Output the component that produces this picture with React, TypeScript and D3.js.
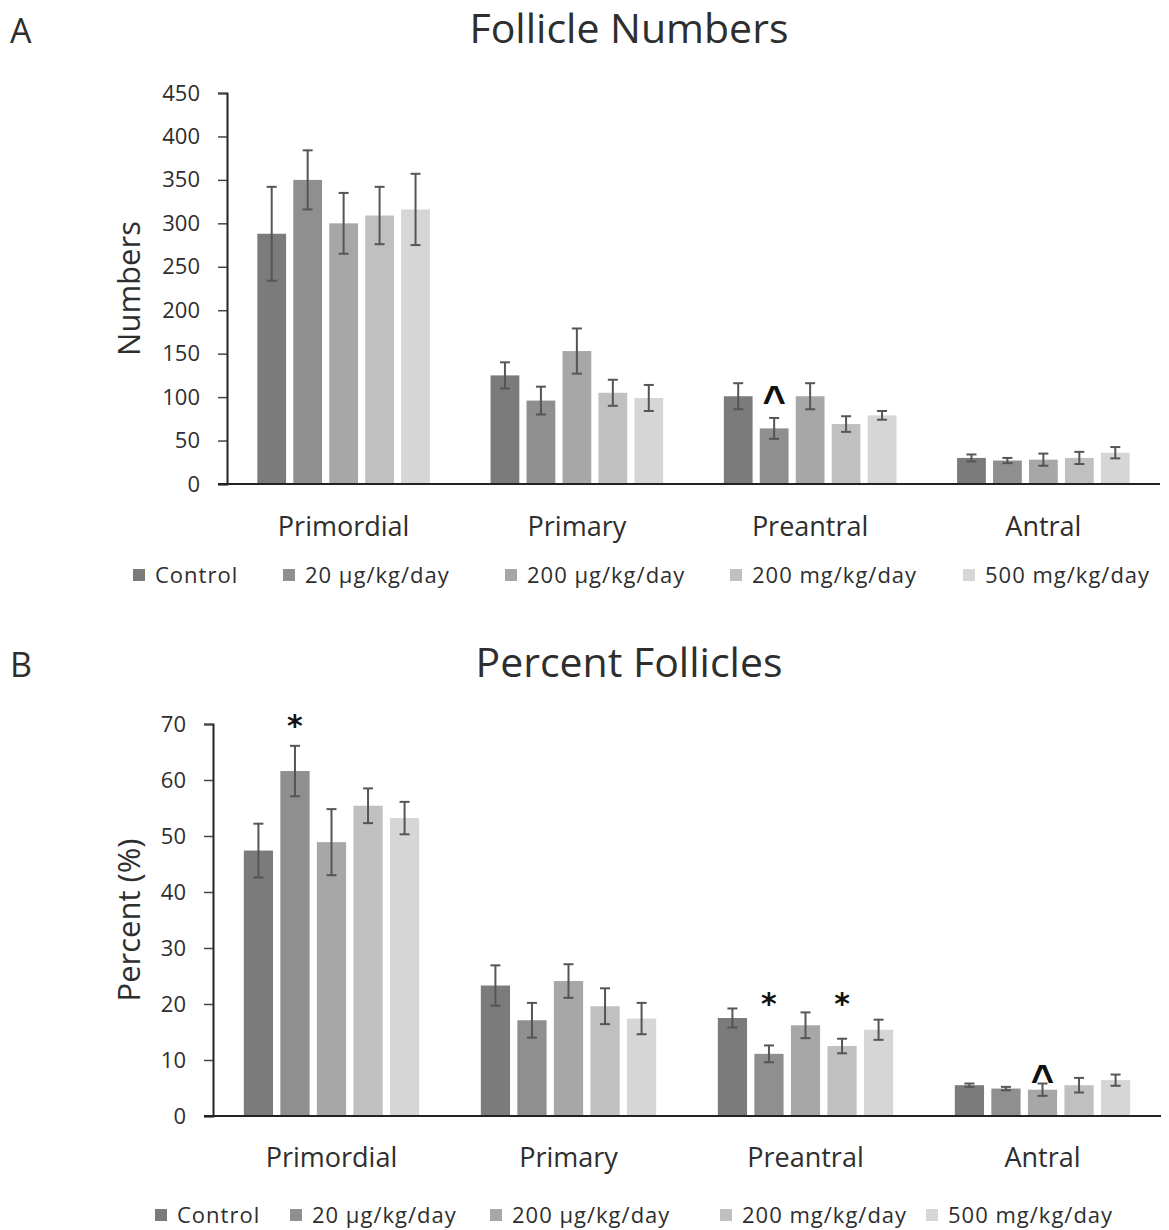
import * as d3 from "d3";
import { useEffect, useRef } from "react";

// follicle stages and treatment groups
const categories = ["Primordial", "Primary", "Preantral", "Antral"];
const groups = ["Control", "20 µg/kg/day", "200 µg/kg/day", "200 mg/kg/day", "500 mg/kg/day"];
const colors = ["#7b7b7b", "#8f8f8f", "#a7a7a7", "#c0c0c0", "#d6d6d6"];

// panel A: follicle numbers (rows = stage, cols = group)
const numberMeans = [
  [288, 350, 300, 309, 316],
  [125, 96, 153, 105, 99],
  [101, 64, 101, 69, 79],
  [30, 27, 28, 30, 36]
];
const numberErrs = [
  [54, 34, 35, 33, 41],
  [15, 16, 26, 15, 15],
  [15, 12, 15, 9, 5],
  [4, 3, 7, 7, 6.5]
];
// level = height (data units) where the mark sits
const numberMarks = [{ cat: "Preantral", group: 1, sym: "^", level: 105 }];

// panel B: percent follicles
const percentMeans = [
  [47.4, 61.6, 48.9, 55.4, 53.2],
  [23.3, 17.1, 24.1, 19.6, 17.4],
  [17.5, 11.1, 16.2, 12.5, 15.4],
  [5.5, 4.9, 4.7, 5.5, 6.4]
];
const percentErrs = [
  [4.8, 4.5, 5.9, 3.1, 2.9],
  [3.6, 3.1, 3.0, 3.2, 2.8],
  [1.7, 1.5, 2.3, 1.3, 1.8],
  [0.3, 0.3, 1.1, 1.3, 1.0]
];
const percentMarks = [
  { cat: "Primordial", group: 1, sym: "*", level: 70.9 },
  { cat: "Preantral", group: 1, sym: "*", level: 21.3 },
  { cat: "Preantral", group: 3, sym: "*", level: 21.3 },
  { cat: "Antral", group: 2, sym: "^", level: 7.9 }
];

const FONT = "'Open Sans', Lato, sans-serif";
const TEXT = "#2e2e2e";

const BarPanel = ({ means, errs, marks, yMax, yStep, title, yLabel, letter, layout }) => {
  const ref = useRef();

  useEffect(() => {
    const g = d3.select(ref.current);
    g.selectAll("*").remove();

    const x0 = d3.scaleBand()
      .domain(categories)
      .range([layout.left, layout.right])
      .paddingInner(0.26)
      .paddingOuter(0.13);

    const x1 = d3.scaleBand()
      .domain(groups)
      .range([0, x0.bandwidth()])
      .paddingInner(0.2);

    const y = d3.scaleLinear()
      .domain([0, yMax])
      .range([layout.bottom, layout.top]);

    // title + panel letter
    g.append("text")
      .attr("x", 629).attr("y", layout.titleY)
      .attr("text-anchor", "middle")
      .attr("font-size", 41)
      .attr("fill", TEXT)
      .text(title);
    g.append("text")
      .attr("x", 10).attr("y", layout.titleY)
      .attr("font-size", 34)
      .attr("fill", TEXT)
      .text(letter);

    // y axis
    const yAxis = g.append("g")
      .attr("transform", `translate(${layout.left},0)`)
      .call(d3.axisLeft(y)
        .tickValues(d3.range(0, yMax + 1, yStep))
        .tickSize(9)
        .tickPadding(18));
    yAxis.select(".domain").attr("stroke", "#222").attr("stroke-width", 2);
    yAxis.selectAll(".tick line").attr("stroke", "#444").attr("stroke-width", 1.5);
    yAxis.selectAll(".tick text")
      .attr("font-size", 22)
      .attr("font-family", FONT)
      .attr("fill", TEXT);

    g.append("text")
      .attr("transform", `translate(${layout.yLabelX},${(layout.top + layout.bottom) / 2}) rotate(-90)`)
      .attr("text-anchor", "middle")
      .attr("dominant-baseline", "central")
      .attr("font-size", 31)
      .attr("fill", TEXT)
      .text(yLabel);

    // bars
    const cats = g.selectAll(".cat")
      .data(categories)
      .join("g")
      .attr("class", "cat")
      .attr("transform", d => `translate(${x0(d)},0)`);

    cats.selectAll("rect")
      .data((d, i) => groups.map((grp, j) => ({ grp, j, v: means[i][j] })))
      .join("rect")
      .attr("x", d => x1(d.grp))
      .attr("y", d => y(d.v))
      .attr("width", x1.bandwidth())
      .attr("height", d => y(0) - y(d.v))
      .attr("fill", d => colors[d.j]);

    // error bars
    const eb = cats.selectAll(".err")
      .data((d, i) => groups.map((grp, j) => ({ grp, v: means[i][j], e: errs[i][j] })))
      .join("g")
      .attr("class", "err")
      .attr("stroke", "#555")
      .attr("stroke-width", 2);
    const cx = d => x1(d.grp) + x1.bandwidth() / 2;
    eb.append("line")
      .attr("x1", cx).attr("x2", cx)
      .attr("y1", d => y(d.v + d.e)).attr("y2", d => y(d.v - d.e));
    eb.append("line")
      .attr("x1", d => cx(d) - 5).attr("x2", d => cx(d) + 5)
      .attr("y1", d => y(d.v + d.e)).attr("y2", d => y(d.v + d.e));
    eb.append("line")
      .attr("x1", d => cx(d) - 5).attr("x2", d => cx(d) + 5)
      .attr("y1", d => y(d.v - d.e)).attr("y2", d => y(d.v - d.e));

    // significance marks (baseline shifted so glyph centre lands on level)
    g.selectAll(".sig")
      .data(marks)
      .join("text")
      .attr("class", "sig")
      .attr("x", d => x0(d.cat) + x1(groups[d.group]) + x1.bandwidth() / 2)
      .attr("y", d => y(d.level) + (d.sym === "*" ? 17 : 21))
      .attr("text-anchor", "middle")
      .attr("font-size", d => (d.sym === "*" ? 30 : 40))
      .attr("font-weight", "bold")
      .attr("font-family", d => (d.sym === "*" ? "'DejaVu Sans', sans-serif" : "'Liberation Sans', sans-serif"))
      .attr("fill", "#111")
      .text(d => d.sym);

    // x axis line
    g.append("line")
      .attr("x1", layout.left - 9).attr("x2", layout.right)
      .attr("y1", y(0)).attr("y2", y(0))
      .attr("stroke", "#222")
      .attr("stroke-width", 2);

    g.selectAll(".catlabel")
      .data(categories)
      .join("text")
      .attr("class", "catlabel")
      .attr("x", d => x0(d) + x0.bandwidth() / 2)
      .attr("y", layout.catY)
      .attr("text-anchor", "middle")
      .attr("font-size", 27)
      .attr("fill", TEXT)
      .text(d => d);

    // legend
    const lg = g.selectAll(".lg")
      .data(groups)
      .join("g")
      .attr("class", "lg")
      .attr("transform", (d, i) => `translate(${layout.legendX[i]},${layout.legendY})`);
    lg.append("rect")
      .attr("x", 0).attr("y", -6)
      .attr("width", 12).attr("height", 12)
      .attr("fill", (d, i) => colors[i]);
    lg.append("text")
      .attr("x", 22).attr("y", 8)
      .attr("font-size", 22)
      .attr("letter-spacing", 1)
      .attr("fill", TEXT)
      .text(d => d);
  }, [means, errs, marks, yMax, yStep, title, yLabel, letter, layout]);

  return <g ref={ref} />;
};

const layoutA = {
  left: 227, right: 1160, top: 93, bottom: 484,
  titleY: 43, yLabelX: 128, catY: 536, legendY: 575,
  legendX: [133, 283, 505, 730, 963]
};
const layoutB = {
  left: 213, right: 1161, top: 724, bottom: 1116,
  titleY: 677, yLabelX: 128, catY: 1167, legendY: 1215,
  legendX: [155, 290, 490, 720, 926]
};

export default function App() {
  return (
    <svg width={1169} height={1230} fontFamily={FONT}
      style={{ position: "absolute", left: 0, top: 0, background: "#fff" }}>
      <BarPanel means={numberMeans} errs={numberErrs} marks={numberMarks}
        yMax={450} yStep={50} title="Follicle Numbers" yLabel="Numbers" letter="A" layout={layoutA} />
      <BarPanel means={percentMeans} errs={percentErrs} marks={percentMarks}
        yMax={70} yStep={10} title="Percent Follicles" yLabel="Percent (%)" letter="B" layout={layoutB} />
    </svg>
  );
}
